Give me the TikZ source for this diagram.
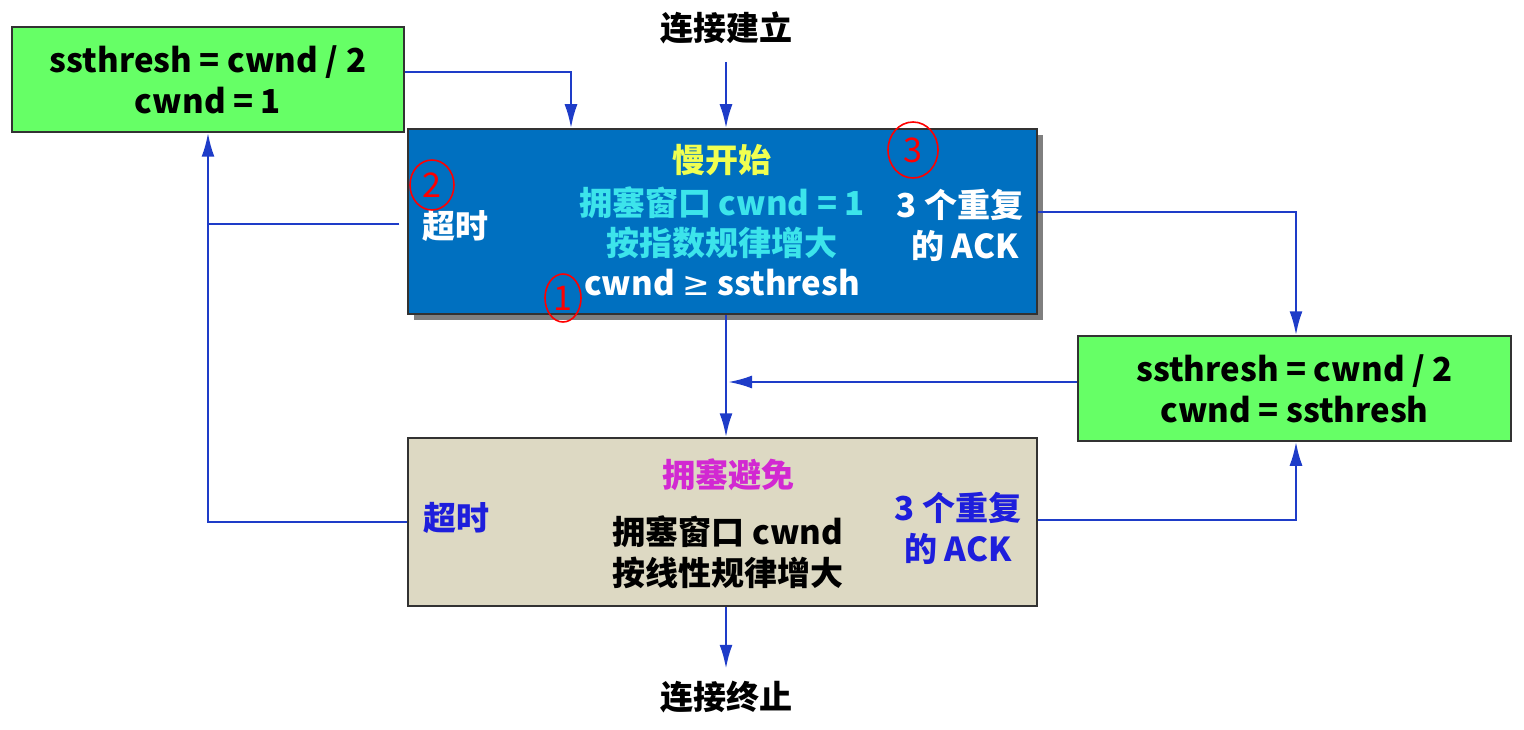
\documentclass[tikz,border=0pt]{standalone}
\usepackage{fontspec}
\setmainfont{Noto Sans CJK SC}
\newfontfamily\dvfont{DejaVu Sans}
\usetikzlibrary{arrows.meta,shapes.geometric,shadows}
\definecolor{boxgreen}{RGB}{102,255,102}
\definecolor{boxblue}{RGB}{0,112,192}
\definecolor{boxbeige}{RGB}{221,217,195}
\definecolor{linkblue}{RGB}{30,60,200}
\definecolor{ttyellow}{RGB}{240,255,80}
\definecolor{ttcyan}{RGB}{60,228,235}
\definecolor{ttmag}{RGB}{210,40,210}
\definecolor{ttblue}{RGB}{30,30,220}
\definecolor{edge}{RGB}{50,50,50}
\begin{document}
\begin{tikzpicture}[x=1pt,y=-1pt,
  box/.style={draw=edge,line width=1.5pt,minimum width=#1,inner sep=0pt},
  txt/.style={font=\bfseries\fontsize{33}{41}\selectfont,align=center,inner sep=0pt},
  link/.style={draw=linkblue,line width=2.5pt},
  arr/.style={link,-{Latex[length=24pt,width=13pt]}},
  redmark/.style={draw=red,line width=1.6pt,ellipse,inner sep=0pt,text=red,font=\fontsize{34}{34}\selectfont\itshape}
]
\useasboundingbox (0,0) rectangle (1524,730);
% boxes
\node[box=392pt,minimum height=105pt,fill=boxgreen] (g1) at (208,79.5) {};
\node[box=629pt,minimum height=185pt,fill=boxblue,drop shadow={shadow xshift=6pt,shadow yshift=-6pt,fill=black,opacity=.5}] (ss) at (722.5,221.5) {};
\node[box=433pt,minimum height=105pt,fill=boxgreen] (g2) at (1294.5,388.5) {};
\node[box=629pt,minimum height=168pt,fill=boxbeige] (ca) at (722.5,522) {};
% green texts
\node[txt] (g1t) at (g1.center) {ssthresh = cwnd / 2\\cwnd = 1};
\node[txt] (g2t) at (g2.center) {ssthresh = cwnd / 2\\cwnd = ssthresh};
% top / bottom labels
\node[txt] (start) at (726,28) {连接建立};
\node[txt] (stop) at (726,697) {连接终止};
% slow start texts
\node[txt,text=ttyellow] (sst) at (722,160) {慢开始};
\node[txt,text=ttcyan] (ss1) at (722,203) {拥塞窗口 cwnd = 1};
\node[txt,text=ttcyan] (ss2) at (722,243) {按指数规律增大};
\node[txt,text=white] (ss3) at (722,283) {cwnd {\dvfont\mdseries ≥} ssthresh};
\node[txt,text=white] (sto) at (455,226) {超时};
\node[txt,text=white] (sdup) at (960,225) {3 个重复\\\hspace*{10pt}的 ACK};
% congestion avoidance texts
\node[txt,text=ttmag] (cat) at (728,475) {拥塞避免};
\node[txt] (ca1) at (728,552) {拥塞窗口 cwnd\\按线性规律增大};
\node[txt,text=ttblue] (cto) at (456,518) {超时};
\node[txt,text=ttblue] (cdup) at (958,528) {3 个重复\\的 ACK};
% red hand marks
\node[redmark,minimum width=36pt,minimum height=48pt] (m1) at (563,298) {1};
\node[redmark,minimum width=44pt,minimum height=50pt] (m2) at (432,185) {2};
\node[redmark,minimum width=50pt,minimum height=56pt] (m3) at (913,150) {3};
% connectors
\coordinate (topin) at (726,62);
\draw[arr] (topin) -- (topin |- ss.north);
\draw[arr] (ss.south -| topin) -- (ca.north -| topin);
\draw[arr] (ca.south -| topin) -- ([yshift=-62pt]ca.south -| topin);
\coordinate (mid) at (728,382);
\draw[arr] (g2.west |- mid) -- (mid);
\coordinate (a1) at (571,72);
\draw[arr] (g1.east |- a1) -- (a1) -- (a1 |- ss.north);
\coordinate (lx) at (208,224);
\draw[link] ([xshift=-8pt]ss.west |- lx) -- (lx);
\coordinate (lb) at (208,522);
\draw[arr] (ca.west |- lb) -- (lb) -- (lb |- g1.south);
\coordinate (r1) at (1296,212);
\draw[arr] (ss.east |- r1) -- (r1) -- (r1 |- g2.north);
\coordinate (r2) at (1296,520);
\draw[arr] (ca.east |- r2) -- (r2) -- (r2 |- g2.south);
\end{tikzpicture}
\end{document}
